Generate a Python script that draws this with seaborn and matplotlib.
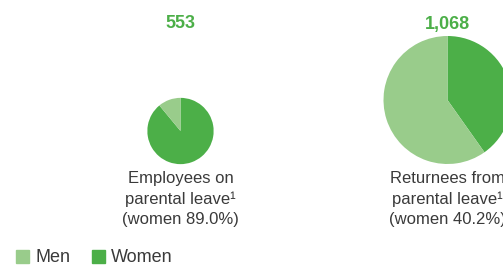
import seaborn as sns
import matplotlib.pyplot as plt
from matplotlib.patches import Patch

# data
groups = ["Employees on\nparental leave\u00b9\n(women 89.0%)",
          "Returnees from\nparental leave\u00b9\n(women 40.2%)"]
totals = [553, 1068]
women_share = [89.0, 40.2]
totals_labels = ["553", "1,068"]
legend_labels = ["Men", "Women"]

sns.set_theme(style="white")
plt.rcParams['font.family'] = ['Liberation Sans', 'DejaVu Sans']

dark, light = "#4caf48", "#99cc8b"
text_col = "#3a3a3a"

W, H = 503, 267
fig = plt.figure(figsize=(W / 100, H / 100), dpi=100)
ax = fig.add_axes([0, 0, 1, 1])

centers = [(180.5, H - 131), (447.5, H - 100)]
scale = 64 / 1068  # radius proportional to headcount

for (cx, cy), tot, ws, lab, name in zip(centers, totals, women_share, totals_labels, groups):
    ax.pie([ws, 100 - ws], colors=[dark, light], startangle=90, counterclock=False,
           center=(cx, cy), radius=tot * scale, frame=True,
           wedgeprops=dict(linewidth=0))
    ax.text(cx, H - 24, lab, ha="center", va="center", color=dark,
            fontsize=13, fontweight="bold")
    ax.text(cx, H - 199, name, ha="center", va="center", color=text_col,
            fontsize=12, linespacing=1.45)

ax.set_xlim(0, W)
ax.set_ylim(0, H)
ax.set_aspect("equal")
ax.axis("off")

handles = [Patch(color=light), Patch(color=dark)]
ax.legend(handles, legend_labels, loc="center left", bbox_to_anchor=(16 / W, (H - 258) / H),
          ncol=2, frameon=False, fontsize=13, handlelength=0.72, handleheight=0.72,
          handletextpad=0.35, columnspacing=1.2, labelcolor=text_col, borderaxespad=0,
          borderpad=0)

fig.savefig("out.png", dpi=100)
